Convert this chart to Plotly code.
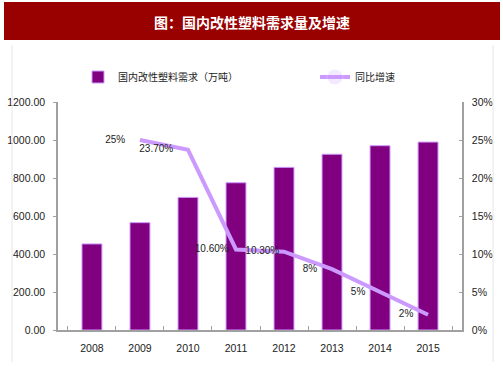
import plotly.graph_objects as go

years = ["2008", "2009", "2010", "2011", "2012", "2013", "2014", "2015"]
demand = [453, 565, 698, 775, 856, 925, 970, 989]
growth = [None, 25, 23.7, 10.6, 10.3, 8, 5, 2]
growth_labels = ["", "25%", "23.70%", "10.60%", "10.30%", "8%", "5%", "2%"]
bar_name = "国内改性塑料需求（万吨）"
line_name = "同比增速"
title_text = "图：国内改性塑料需求量及增速"

NUMF = "Liberation Sans Narrow, Arial Narrow, Liberation Sans, Arial, sans-serif"
CJK = "Noto Sans CJK SC, sans-serif"

W, H = 503, 378
L, R, T, B = 58, 41, 102, 48
pw, ph = W - L - R, H - T - B


def px(x):
    return (x - L) / pw


def py(y):
    return (H - B - y) / ph


# invisible marker sizes only set how far each label sits left of its point
label_gap = [22, 22, 22, 10, 6, 22, 22, 22]

fig = go.Figure()
fig.add_trace(go.Bar(
    x=years, y=demand, name=bar_name,
    marker=dict(color="#800080", line=dict(color="#CC99FF", width=1)),
    yaxis="y", legend="legend", showlegend=True,
))
fig.add_trace(go.Scatter(
    x=years, y=growth, name=line_name, mode="lines+markers+text",
    text=growth_labels, textposition="middle left",
    textfont=dict(family=NUMF, size=10, color="#222222"),
    line=dict(color="#CC99FF", width=4),
    marker=dict(size=label_gap, opacity=0, color="#CC99FF"),
    yaxis="y2", cliponaxis=False, legend="legend2", showlegend=True,
))

shapes = [
    dict(type="rect", xref="paper", yref="paper",
         x0=px(4), x1=px(500), y0=py(40), y1=py(2),
         fillcolor="#990000", line=dict(width=0), layer="below"),
    dict(type="line", xref="paper", yref="paper",
         x0=px(12), x1=px(12), y0=py(45), y1=py(362),
         line=dict(color="#E6E6E6", width=1)),
    dict(type="line", xref="paper", yref="paper",
         x0=px(493), x1=px(493), y0=py(45), y1=py(362),
         line=dict(color="#E6E6E6", width=1)),
]

legend_common = dict(
    orientation="h", xref="container", yref="container",
    xanchor="left", yanchor="middle", visible=True,
    font=dict(family=CJK, size=10, color="#222222"),
    bgcolor="rgba(0,0,0,0)",
)

fig.update_layout(
    width=W, height=H,
    showlegend=True,
    margin=dict(l=L, r=R, t=T, b=B, autoexpand=False),
    paper_bgcolor="white", plot_bgcolor="white",
    bargap=0.585,
    shapes=shapes,
    annotations=[dict(
        text="<b>" + title_text + "</b>", xref="paper", yref="paper",
        x=px(252), y=py(22), xanchor="center", yanchor="middle",
        showarrow=False, font=dict(family=CJK, size=14, color="white"),
    )],
    legend=dict(legend_common, x=78 / W, y=(H - 77) / H),
    legend2=dict(legend_common, x=315 / W, y=(H - 77) / H),
    xaxis=dict(
        type="category", showgrid=False, showline=True,
        linecolor="#A0A0A0", linewidth=1.5,
        ticks="inside", ticklen=4, tickcolor="#A0A0A0", tickson="boundaries",
        tickfont=dict(family=NUMF, size=10.5, color="#222222"),
        ticklabelstandoff=8,
    ),
    yaxis=dict(
        range=[0, 1200], dtick=200, tickformat=".2f",
        showgrid=False, showline=True, linecolor="#A0A0A0", linewidth=1.5,
        ticks="outside", ticklen=3, tickcolor="#A0A0A0",
        tickfont=dict(family=NUMF, size=10.5, color="#222222"),
        ticklabelstandoff=6, zeroline=False,
    ),
    yaxis2=dict(
        range=[0, 30], dtick=5, ticksuffix="%", overlaying="y", side="right",
        showgrid=False, showline=True, linecolor="#A0A0A0", linewidth=1.5,
        ticks="inside", ticklen=3, tickcolor="#A0A0A0",
        tickfont=dict(family=NUMF, size=10.5, color="#222222"),
        ticklabelstandoff=6, zeroline=False,
    ),
)

fig.write_html(
    "out.html",
    config={"displayModeBar": False},
    post_script="document.body.style.margin='0';document.body.style.padding='0';",
)
